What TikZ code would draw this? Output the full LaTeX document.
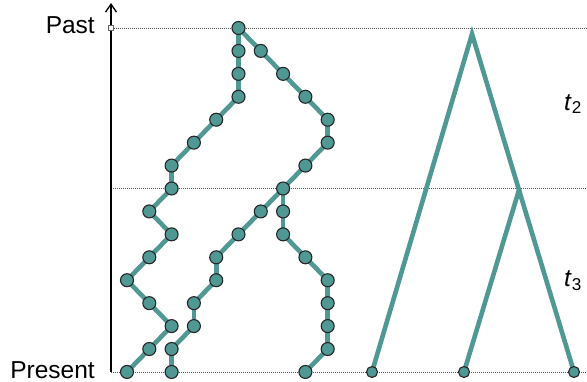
\documentclass[tikz,border=0pt]{standalone}
\usepackage{fontspec}
\setmainfont{Liberation Sans}
\usetikzlibrary{arrows.meta,backgrounds}
\definecolor{lineage}{RGB}{80,152,148}

\begin{document}
\begin{tikzpicture}[x=1pt,y=-1pt,>={Straight Barb[length=8pt,width=11pt]}]
  \tikzstyle{gene}=[circle,draw=black!85,fill=lineage,line width=1.1pt,minimum size=13pt,inner sep=0pt]
  \tikzstyle{leaf}=[gene,minimum size=11pt]
  \tikzstyle{branch}=[draw=lineage,line width=4.6pt]
  \tikzstyle{level}=[draw=black!65,dash pattern=on 1pt off 1pt,line width=0.8pt]
  \tikzstyle{lbl}=[inner sep=0pt,font=\fontsize{24.5}{28}\selectfont]
  \useasboundingbox (0,0) rectangle (587,382);
  \coordinate (top) at (111,3);
  \coordinate (present) at (111,372);
  \coordinate (mid) at (111,188);
  \node[draw=black!60,fill=white,minimum size=4.5pt,inner sep=0pt,line width=0.6pt] (past) at (111,28) {};
  \coordinate (pastend) at (587,28);
  \coordinate (midend) at (587,188);
  \coordinate (presentend) at (587,372);
  \node[lbl,anchor=east] (pastlbl) at (95,25) {Past};
  \node[lbl,anchor=east] (presentlbl) at (95,370) {Present};
  \node[lbl] (t2) at (573,104) {\textit{t}\textsubscript{2}};
  \node[lbl] (t3) at (573,281) {\textit{t}\textsubscript{3}};
  \foreach \r/\c in {0/5,1/5,2/5,3/5,4/4,5/3,6/2,7/2,8/1,9/2,10/1,11/0,12/1,13/2,14/1,15/0}
    \node[gene] (a\r) at ({127+22.3*\c},{28+22.93*\r}) {};
  \foreach \r/\c in {1/6,2/7,3/8,4/9,5/9,6/8,7/7,8/6,9/5,10/4,11/4,12/3,13/3,14/2,15/2}
    \node[gene] (b\r) at ({127+22.3*\c},{28+22.93*\r}) {};
  \foreach \r/\c in {8/7,9/7,10/8,11/9,12/9,13/9,14/9,15/8}
    \node[gene] (c\r) at ({127+22.3*\c},{28+22.93*\r}) {};
  \node[leaf] (l1) at (372,372) {};
  \node[leaf] (l2) at (464,372) {};
  \node[leaf] (l3) at (574,372) {};
  \coordinate (root) at (472,34);
  \coordinate (split) at (519,190);
  \begin{scope}[on background layer]
    \draw[level] (past) -- (pastend);
    \draw[level] (mid) -- (midend);
    \draw[level] (present) -- (presentend);
    \draw[->,line width=1.3pt] (present) -- (top);
    \foreach \r [remember=\r as \p (initially 0)] in {1,...,15}
      \draw[branch] (a\p.center) -- (a\r.center);
    \draw[branch] (a0.center) -- (b1.center);
    \foreach \r [remember=\r as \p (initially 1)] in {2,...,15}
      \draw[branch] (b\p.center) -- (b\r.center);
    \draw[branch] (b7.center) -- (c8.center);
    \foreach \r [remember=\r as \p (initially 8)] in {9,...,15}
      \draw[branch] (c\p.center) -- (c\r.center);
    \draw[branch] (l1.center) -- (root) -- (split) -- (l2.center);
    \draw[branch] (split) -- (l3.center);
  \end{scope}
\end{tikzpicture}
\end{document}
